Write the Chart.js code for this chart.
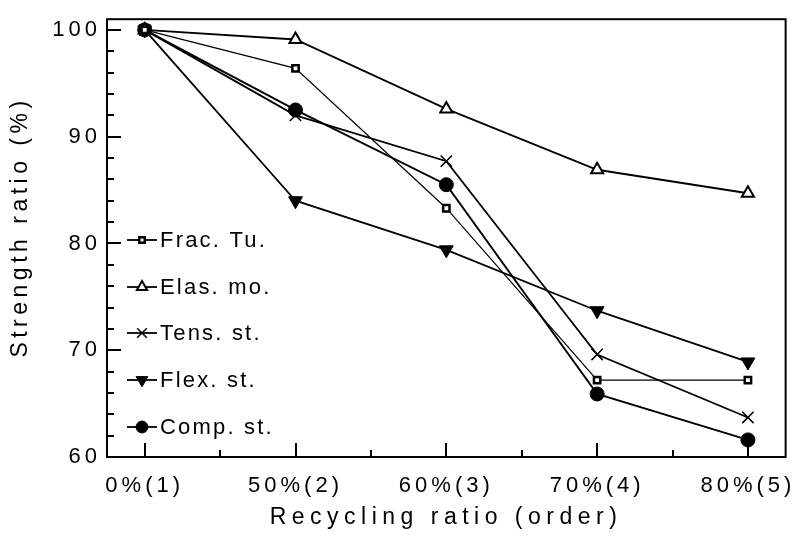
<!DOCTYPE html>
<html>
<head>
<meta charset="utf-8">
<script src="https://cdn.jsdelivr.net/npm/chart.js@4/dist/chart.umd.min.js"></script>
<style>
  html, body { margin: 0; padding: 0; background: #fff; }
  #wrap { width: 800px; height: 542px; }
</style>
</head>
<body>
<div id="wrap"><canvas id="c" width="800" height="542"></canvas></div>
<script>
const categories = ['0%(1)', '50%(2)', '60%(3)', '70%(4)', '80%(5)'];
const yTickValues = [60, 70, 80, 90, 100];
const seriesNames = ['Frac. Tu.', 'Elas. mo.', 'Tens. st.', 'Flex. st.', 'Comp. st.'];
const fracTu  = [100, 96.4, 83.3, 67.2, 67.2];
const elasMo  = [100, 99.1, 92.6, 86.9, 84.7];
const tensSt  = [100, 92.0, 87.7, 69.6, 63.7];
const flexSt  = [100, 84.0, 79.4, 73.7, 68.9];
const compSt  = [100, 92.5, 85.5, 65.9, 61.6];
const xTitle = 'Recycling ratio (order)';
const yTitle = 'Strength ratio (%)';

const FONT = '"Liberation Sans", Arial, sans-serif';
const toXY = arr => arr.map((v, i) => ({ x: i, y: v }));

const styles = [
  { pointStyle: 'rect', radius: 4.5, bg: '#fff', bw: 2.5, lw: 1.2, rot: 0 },
  { pointStyle: 'triangle', radius: 7, bg: '#fff', bw: 2, lw: 1.8, rot: 0 },
  { pointStyle: 'crossRot', radius: 8, bg: '#000', bw: 1.5, lw: 1.8, rot: 0 },
  { pointStyle: 'triangle', radius: 8, bg: '#000', bw: 1, lw: 1.8, rot: 180 },
  { pointStyle: 'circle', radius: 7, bg: '#000', bw: 1, lw: 2, rot: 0 }
];
const seriesData = [fracTu, elasMo, tensSt, flexSt, compSt];

const datasets = seriesData.map((arr, i) => ({
  label: seriesNames[i],
  data: toXY(arr),
  borderColor: '#000',
  borderWidth: styles[i].lw,
  backgroundColor: styles[i].bg,
  pointStyle: styles[i].pointStyle,
  pointRadius: styles[i].radius,
  pointRotation: styles[i].rot,
  pointBorderColor: '#000',
  pointBackgroundColor: styles[i].bg,
  pointBorderWidth: styles[i].bw,
  tension: 0,
  fill: false
}));

const framePlugin = {
  id: 'frame',
  beforeDraw(chart) {
    chart.ctx.letterSpacing = '4px';
  },
  afterDatasetsDraw(chart) {
    const { ctx, chartArea: a } = chart;
    const xs = chart.scales.x, ys = chart.scales.y;
    ctx.save();
    ctx.strokeStyle = '#000';
    ctx.lineWidth = 2;
    ctx.strokeRect(a.left, a.top, a.right - a.left, a.bottom - a.top);
    ctx.beginPath();
    for (let v = 62; v <= 100; v += 2) {
      const y = Math.round(ys.getPixelForValue(v));
      const len = (v % 10 === 0) ? 14 : 7;
      ctx.moveTo(a.left, y); ctx.lineTo(a.left + len, y);
    }
    for (let i = 0; i < categories.length; i++) {
      const x = Math.round(xs.getPixelForValue(i));
      ctx.moveTo(x, a.bottom); ctx.lineTo(x, a.bottom - 14);
      if (i < categories.length - 1) {
        const xm = Math.round(xs.getPixelForValue(i + 0.5));
        ctx.moveTo(xm, a.bottom); ctx.lineTo(xm, a.bottom - 7);
      }
    }
    ctx.stroke();
    ctx.restore();
  },
  afterDraw(chart) {
    const { ctx, chartArea: a } = chart;
    ctx.save();
    // axis titles
    ctx.fillStyle = '#000';
    ctx.font = '23px ' + FONT;
    ctx.letterSpacing = '5.5px';
    ctx.textBaseline = 'middle';
    ctx.textAlign = 'center';
    ctx.fillText(xTitle, 446, 518);
    ctx.save();
    ctx.letterSpacing = '4.5px';
    ctx.translate(21, 229);
    ctx.rotate(-Math.PI / 2);
    ctx.fillText(yTitle, 2, 0);
    ctx.restore();

    // legend
    const rows = [240, 287, 333, 380, 427];
    ctx.letterSpacing = '2.2px';
    ctx.font = '22px ' + FONT;
    ctx.textAlign = 'left';
    chart.data.datasets.forEach((ds, i) => {
      const y = rows[i];
      ctx.strokeStyle = '#000';
      ctx.lineWidth = 1.8;
      ctx.beginPath();
      ctx.moveTo(127, y); ctx.lineTo(157, y);
      ctx.stroke();
      ctx.fillStyle = ds.pointBackgroundColor;
      ctx.strokeStyle = '#000';
      ctx.lineWidth = ds.pointBorderWidth;
      Chart.helpers.drawPoint(ctx, {
        pointStyle: ds.pointStyle,
        rotation: ds.pointRotation,
        radius: ds.pointRadius * 0.85,
        borderWidth: ds.pointBorderWidth
      }, 142, y);
      ctx.fillStyle = '#000';
      ctx.fillText(ds.label, 160, y + 1);
    });
    ctx.restore();
  }
};

new Chart(document.getElementById('c'), {
  type: 'line',
  data: { datasets },
  plugins: [framePlugin],
  options: {
    responsive: false,
    animation: false,
    layout: { padding: { top: 8, right: 11, left: 0, bottom: 0 } },
    plugins: { legend: { display: false }, tooltip: { enabled: false } },
    scales: {
      x: {
        type: 'linear',
        min: -0.25,
        max: 4.25,
        afterBuildTicks: s => { s.ticks = categories.map((c, i) => ({ value: i })); },
        afterFit: s => { s.height = 85; },
        grid: { display: false, drawTicks: false },
        border: { display: false },
        ticks: {
          color: '#000',
          font: { family: FONT, size: 22 },
          padding: 16,
          maxRotation: 0,
          autoSkip: false,
          callback: (v) => categories[v] ?? ''
        },
        title: { display: false }
      },
      y: {
        min: 60,
        max: 101,
        afterBuildTicks: s => { s.ticks = yTickValues.map(v => ({ value: v })); },
        afterFit: s => { s.width = 107; },
        grid: { display: false, drawTicks: false },
        border: { display: false },
        ticks: {
          color: '#000',
          font: { family: FONT, size: 22 },
          padding: 6,
          callback: v => String(v)
        },
        title: { display: false }
      }
    }
  }
});
</script>
</body>
</html>
